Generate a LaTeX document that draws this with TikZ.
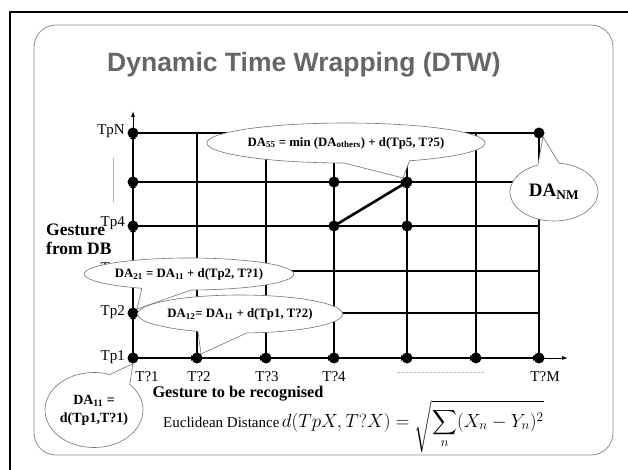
\RequirePackage{fix-cm}
\documentclass[tikz,border=0pt]{standalone}
\usepackage{amsmath}
\usepackage{exscale}
\usepackage{fontspec}
\setmainfont{Liberation Serif}
\newfontfamily\titlefont{Liberation Sans}
\usetikzlibrary{positioning,arrows.meta,shapes.callouts}

\begin{document}
\begin{tikzpicture}[
    x=1pt, y=-1pt,
    gridline/.style={line width=1.2pt},
    pathline/.style={line width=2.6pt, -{Latex[length=6pt,width=6pt]}},
    axisline/.style={line width=0.9pt, -{Latex[length=6pt,width=4pt]}},
    dot/.style={circle, fill=black, inner sep=0pt, minimum size=11pt},
    lbl/.style={font=\fontsize{15}{17}\selectfont, inner sep=1pt},
    bubble/.style={
        ellipse callout,
        draw=black!55,
        fill=white,
        line width=0.6pt,
        callout pointer arc=28,
        inner sep=0pt,
        align=center,
        font=\bfseries\fontsize{12.8}{15}\selectfont
    },
    hint/.style={black!30, line width=0.7pt}
]
\useasboundingbox (0,0) rectangle (628,470);

% frame and slide
\draw[line width=1.6pt] (628,12) -- (10,12) -- (10,470);
\draw[black!45, line width=0.8pt, rounded corners=22pt] (34,25) rectangle (613,455);

\node[font=\titlefont\bfseries\fontsize{26.5}{30}\selectfont, text=black!60] (title) at (304,65)
    {Dynamic Time Wrapping (DTW)};

% grid points
\foreach \x [count=\i] in {133,197,266,334,407,476,539}
    \foreach \y [count=\j] in {358,313,271,226,182,133}
        \coordinate (p\i\j) at (\x,\y);

\foreach \j in {1,...,6}
    \draw[gridline] (p1\j) -- (p7\j);
\foreach \i in {1,...,7}
    \draw[gridline] (p\i1) -- (p\i6);

% axes
\coordinate (ytop) at (133,111);
\coordinate (xend) at (568,358);
\draw[axisline] (p16) -- (ytop);
\draw[axisline] (p71) -- (xend);
\foreach \a/\b in {1/2,2/3,3/4,4/5,5/6}
    \draw[pathline] (p1\a) -- (p1\b);
\foreach \a/\b in {1/2,2/3,3/4,4/5,5/6,6/7}
    \draw[pathline] (p\a1) -- (p\b1);

% warping step
\draw[pathline] (p44) -- (p55);
\draw[pathline] (p45) -- (p55);
\draw[pathline] (p54) -- (p55);

\foreach \j in {1,...,6}
    \node[dot] (a\j) at (p1\j) {};
\foreach \i in {2,...,7}
    \node[dot] (b\i) at (p\i1) {};
\node[dot] (d44) at (p44) {};
\node[dot] (d45) at (p45) {};
\node[dot] (d54) at (p54) {};
\node[dot] (d55) at (p55) {};
\node[dot] (dNM) at (p76) {};

% skipped rows and columns
\coordinate (vs) at (113,158);
\coordinate (ve) at (113,202);
\coordinate (hs) at (397,372);
\coordinate (he) at (485,372);
\draw[hint] (vs) -- (ve);
\draw[hint, black!22, dash pattern=on 3pt off 1pt] (hs) -- (he);

% labels
\node[lbl, anchor=east] (tp1) at (126,357) {Tp1};
\node[lbl, anchor=east] (tp2) at (126,312) {Tp2};
\node[lbl, anchor=east] (tp3) at (126,269) {Tp3};
\node[lbl, anchor=east] (tp4) at (126,223) {Tp4};
\node[lbl, anchor=east] (tpN) at (126,131) {TpN};

\node[lbl] (t1) at (147,377) {T?1};
\node[lbl] (t2) at (199,377) {T?2};
\node[lbl] (t3) at (267,377) {T?3};
\node[lbl] (t4) at (334,377) {T?4};
\node[lbl] (tM) at (545,377) {T?M};

\node[font=\bfseries\fontsize{17.5}{19}\selectfont, align=left, anchor=north west, inner sep=0pt]
    (gdb) at (46,224) {Gesture\\from DB};
\node[font=\bfseries\fontsize{16.3}{18}\selectfont] (grec) at (238,394) {Gesture to be recognised};

\node[anchor=base west, inner sep=0pt] (euclid) at (163,427)
    {{\fontsize{15}{17}\selectfont Euclidean Distance}
     \fontsize{19}{23}\selectfont $\displaystyle d(TpX,T?X)=\sqrt{\sum_n (X_n-Y_n)^2}$};

% callouts
\node[bubble, minimum width=240pt, minimum height=40pt,
      callout absolute pointer={(d55.north west)}] (c55) at (346,143)
    {DA\textsubscript{55} = min (DA\textsubscript{others}) + d(Tp5, T?5)};
\node[bubble, minimum width=88pt, minimum height=58pt,
      font=\bfseries\fontsize{19}{22}\selectfont,
      callout absolute pointer={(dNM.south east)}] (cNM) at (554,192)
    {DA\textsubscript{NM}};
\node[bubble, minimum width=172pt, minimum height=32pt,
      callout absolute pointer={(a2.north east)}] (c21) at (189,274)
    {DA\textsubscript{21} = DA\textsubscript{11} + d(Tp2, T?1)};
\node[bubble, minimum width=186pt, minimum height=38pt,
      callout absolute pointer={(b2.north east)}] (c12) at (240,314)
    {DA\textsubscript{12}= DA\textsubscript{11} + d(Tp1, T?2)};
\node[bubble, minimum width=98pt, minimum height=75pt,
      font=\bfseries\fontsize{14}{18}\selectfont,
      callout absolute pointer={(a1.south)}] (c11) at (94,410)
    {DA\textsubscript{11} =\\d(Tp1,T?1)};

\end{tikzpicture}
\end{document}
